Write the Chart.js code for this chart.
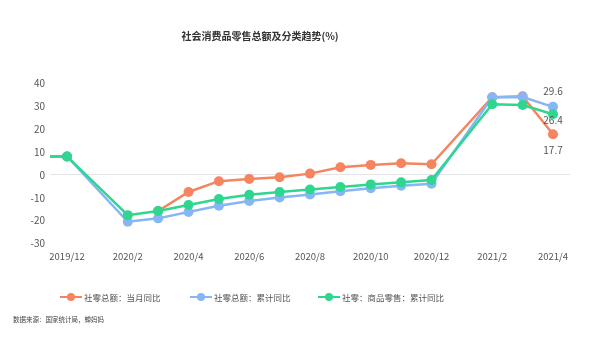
<!DOCTYPE html>
<html>
<head>
<meta charset="utf-8">
<script src="https://cdn.jsdelivr.net/npm/chart.js@4/dist/chart.umd.min.js"></script>
<style>
    body { margin: 0; background: #fff; font-family: "Noto Sans CJK SC", "Noto Sans", sans-serif; }
    #wrap { position: relative; width: 600px; height: 339px; overflow: hidden; }
    #myChart { position: absolute; left: 0; top: 0; }
    .titulo { position: absolute; left: 0; width: 520px; top: 28px; text-align: center; font-size: 10px; font-weight: bold; color: #333; }
    .leyenda { position: absolute; top: 291px; font-size: 8.5px; color: #555; display: flex; align-items: center; }
    .leyenda i { display: inline-block; position: relative; width: 22px; height: 2.5px; margin-right: 2px; }
    .leyenda i b { position: absolute; left: 7px; top: -3px; width: 8px; height: 8px; border-radius: 50%; }
    .fuente { position: absolute; left: 13px; top: 314px; font-size: 6.5px; color: #444; }
</style>
</head>
<body>
<div id="wrap">
    <canvas id="myChart" width="600" height="339"></canvas>
    <div class="titulo">社会消费品零售总额及分类趋势(%)</div>
    <div class="leyenda" style="left:60px"><i style="background:#f5845f"><b style="background:#f5845f"></b></i>社零总额：当月同比</div>
    <div class="leyenda" style="left:190px"><i style="background:#86b6f5"><b style="background:#86b6f5"></b></i>社零总额：累计同比</div>
    <div class="leyenda" style="left:318px"><i style="background:#2fd68f"><b style="background:#2fd68f"></b></i>社零：商品零售：累计同比</div>
    <div class="fuente">数据来源：国家统计局，蝉妈妈</div>
</div>
<script>
const meses = ['2019/11', '2019/12', '2020/2', '2020/3', '2020/4', '2020/5', '2020/6', '2020/7', '2020/8', '2020/9', '2020/10', '2020/11', '2020/12', '2021/2', '2021/3', '2021/4']
const mensual = [8.0, 8.0, null, -15.8, -7.5, -2.8, -1.8, -1.1, 0.5, 3.3, 4.3, 5.0, 4.6, 33.8, 34.2, 17.7]
const acumulado = [8.0, 8.0, -20.5, -19.0, -16.2, -13.5, -11.4, -9.9, -8.6, -7.2, -5.9, -4.8, -3.9, 33.8, 33.9, 29.6]
const mercancias = [8.0, 8.0, -17.6, -15.8, -13.2, -10.6, -8.7, -7.5, -6.4, -5.3, -4.2, -3.3, -2.3, 30.7, 30.4, 26.4]
const etiquetasX = ['2019/12', '2020/2', '2020/4', '2020/6', '2020/8', '2020/10', '2020/12', '2021/2', '2021/4']
const ticksY = [-30, -20, -10, 0, 10, 20, 30, 40]

// mes -> posicion (meses desde 2019/12)
const posMes = m => {
    const [a, mm] = m.split('/').map(Number)
    return (a - 2019) * 12 + mm - 12
}

const puntos = valores => meses.map((m, i) => ({x: posMes(m), y: valores[i]}))

const serie = (label, valores, color, orden) => ({
    label,
    data: puntos(valores),
    borderColor: color,
    backgroundColor: color,
    borderWidth: 2.5,
    pointRadius: 5,
    pointBorderWidth: 0,
    tension: 0,
    spanGaps: false,
    order: orden
})

// etiquetas del ultimo punto
const etiquetasFinales = {
    id: 'etiquetasFinales',
    afterDatasetsDraw(chart) {
        const {ctx} = chart
        const conf = [[1, -16], [2, 6], [0, 16]]
        ctx.save()
        ctx.font = '10px "Noto Sans CJK SC", sans-serif'
        ctx.fillStyle = '#555'
        ctx.textAlign = 'center'
        ctx.textBaseline = 'middle'
        conf.forEach(([ds, dy]) => {
            const pts = chart.getDatasetMeta(ds).data
            const p = pts[pts.length - 1]
            const v = chart.data.datasets[ds].data[pts.length - 1].y
            ctx.fillText(v.toFixed(1), p.x, p.y + dy)
        })
        ctx.restore()
    }
}

const data = {
    datasets: [
        serie('社零总额：当月同比', mensual, '#f5845f', 3),
        serie('社零总额：累计同比', acumulado, '#86b6f5', 2),
        serie('社零：商品零售：累计同比', mercancias, '#2fd68f', 1)
    ]
}

const options = {
    responsive: false,
    animation: false,
    layout: {padding: {top: 83, right: 30, bottom: 70, left: 0}},
    plugins: {legend: {display: false}, tooltip: {enabled: false}},
    scales: {
        x: {
            type: 'linear',
            min: -0.56,
            max: 16.56,
            afterBuildTicks: scale => {
                scale.ticks = etiquetasX.map(e => ({value: posMes(e)}))
            },
            ticks: {
                color: '#555',
                font: {size: 9.5, family: '"Noto Sans CJK SC", sans-serif'},
                padding: 7,
                maxRotation: 0,
                autoSkip: false,
                callback: v => etiquetasX.find(e => posMes(e) === v) || ''
            },
            grid: {display: false, drawTicks: false},
            border: {display: false}
        },
        y: {
            min: -30,
            max: 40,
            afterBuildTicks: scale => {
                scale.ticks = ticksY.map(v => ({value: v}))
            },
            afterFit: scale => { scale.width = 50 },
            ticks: {
                color: '#555',
                font: {size: 10, family: '"Noto Sans CJK SC", sans-serif'},
                padding: 5
            },
            grid: {
                drawTicks: false,
                color: c => c.tick && c.tick.value === 0 ? '#e4e4e4' : 'transparent'
            },
            border: {display: false}
        }
    }
}

new Chart('myChart', {type: 'line', data, options, plugins: [etiquetasFinales]})
</script>
</body>
</html>
